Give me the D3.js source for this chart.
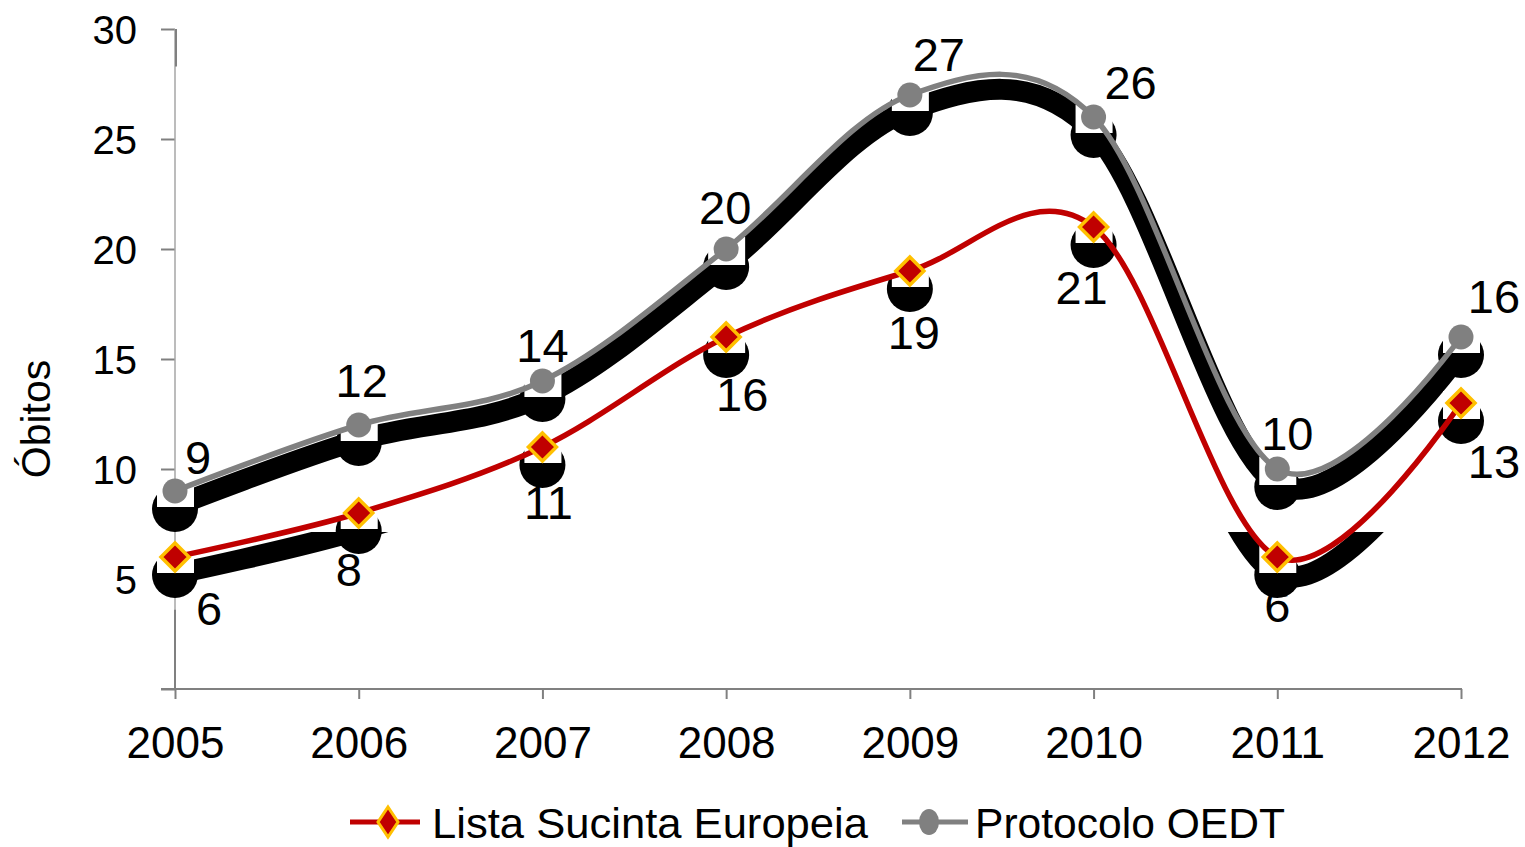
<!DOCTYPE html>
<html><head><meta charset="utf-8">
<script src="https://cdn.jsdelivr.net/npm/d3@7"></script>
<style>html,body{margin:0;padding:0;background:#fff;}svg{display:block;font-family:"Liberation Sans",Arial,sans-serif;}</style>
</head><body>
<svg id="chart" width="1525" height="847"></svg>
<script>
// ---- data ----
const years = ["2005","2006","2007","2008","2009","2010","2011","2012"];
const lista = [6, 8, 11, 16, 19, 21, 6, 13];          // Lista Sucinta Europeia
const oedt  = [9, 12, 14, 20, 27, 26, 10, 16];        // Protocolo OEDT
const yTickValues = [0, 5, 10, 15, 20, 25, 30];
const seriesNames = ["Lista Sucinta Europeia", "Protocolo OEDT"];
const yTitle = "Óbitos";
// label placement (layout only)
const oedtLabelDx = [23, 3, 0, -1, 29, 37, 10, 33];
const oedtLabelDy = [-34, -45, -36, -42, -41, -35, -36, -41];
const listaLabelDx = [34, -10, 6, 16, 4, -12, 0, 33];
const listaLabelDy = [51, 56, 55, 57, 61, 60, 48, 58];

const svg = d3.select("#chart");
const x = d3.scalePoint().domain(years).range([175, 1461]);
const y = d3.scaleLinear().domain([0, 30]).range([689, 29]);

const RED = "#C00000", GOLD = "#FFC000", GRAY = "#808080";
const curve = d3.curveCardinal.tension(0);

const lineGen = d3.line().x((d, i) => x(years[i])).y(d => y(d)).curve(curve);

// ---- axes ----
const yAxis = svg.append("g").attr("transform", `translate(${x(years[0])},0)`)
  .call(d3.axisLeft(y).tickValues(yTickValues).tickSize(14).tickPadding(24)
        .tickFormat(d => d === 0 ? "" : d));
yAxis.select(".domain").remove();
yAxis.selectAll(".tick line").attr("stroke", GRAY).attr("stroke-width", 2);
yAxis.selectAll(".tick text").attr("font-size", 40).attr("fill", "#000")
  .attr("font-family", "Liberation Sans, Arial, sans-serif").attr("dy", "0.36em");

// y axis line
svg.append("line").attr("x1", x(years[0])).attr("x2", x(years[0]))
  .attr("y1", y(30)).attr("y2", y(0)).attr("stroke", "#A6A6A6").attr("stroke-width", 1.5);
svg.append("line").attr("x1", x(years[0]) + 1).attr("x2", x(years[0]) + 1)
  .attr("y1", y(30)).attr("y2", y(28.3)).attr("stroke", GRAY).attr("stroke-width", 2);
svg.append("line").attr("x1", x(years[0])).attr("x2", x(years[0]))
  .attr("y1", y(3.6)).attr("y2", y(0)).attr("stroke", GRAY).attr("stroke-width", 2);

const xAxis = svg.append("g").attr("transform", `translate(0,${y(0)})`)
  .call(d3.axisBottom(x).tickSize(10).tickPadding(28));
xAxis.select(".domain").remove();
xAxis.selectAll(".tick line").attr("stroke", GRAY).attr("stroke-width", 2);
xAxis.selectAll(".tick text").attr("font-size", 44).attr("fill", "#000")
  .attr("font-family", "Liberation Sans, Arial, sans-serif");
svg.append("line").attr("x1", x(years[0]) - 14).attr("x2", x(years[years.length - 1]) + 1)
  .attr("y1", y(0)).attr("y2", y(0)).attr("stroke", GRAY).attr("stroke-width", 2);

// y title
svg.append("text").attr("transform", `translate(50,${(y(30) + y(0)) / 2 + 60}) rotate(-90)`)
  .attr("text-anchor", "middle").attr("font-size", 41).text(yTitle);

// ---- shadow artifacts ----
svg.append("defs").append("clipPath").attr("id", "redclip")
  .append("rect").attr("x", 0).attr("y", 532).attr("width", 1525).attr("height", 200);

svg.append("path").datum(oedt).attr("d", lineGen)
  .attr("transform", "translate(0,15)")
  .attr("fill", "none").attr("stroke", "#000").attr("stroke-width", 21);
svg.append("g").attr("clip-path", "url(#redclip)")
  .append("path").datum(lista).attr("d", lineGen)
  .attr("transform", "translate(0,17)")
  .attr("fill", "none").attr("stroke", "#000").attr("stroke-width", 21);

const allPts = [];
years.forEach((yr, i) => { allPts.push({ yr, v: oedt[i] }); allPts.push({ yr, v: lista[i] }); });

svg.append("g").selectAll("ellipse").data(allPts).join("ellipse")
  .attr("cx", d => x(d.yr)).attr("cy", d => y(d.v) + 18)
  .attr("rx", 23).attr("ry", 23).attr("fill", "#000");
svg.append("g").selectAll("rect").data(allPts).join("rect")
  .attr("x", d => x(d.yr) - 18).attr("y", d => y(d.v) - 12)
  .attr("width", 37).attr("height", 28).attr("fill", "#fff");

// ---- lines ----
svg.append("path").datum(lista).attr("d", lineGen)
  .attr("fill", "none").attr("stroke", RED).attr("stroke-width", 5.5);
svg.append("path").datum(oedt).attr("d", lineGen)
  .attr("fill", "none").attr("stroke", GRAY).attr("stroke-width", 5.5);

// ---- markers ----
function diamondPath(cx, cy, hw, hh) {
  return `M${cx},${cy - hh}L${cx + hw},${cy}L${cx},${cy + hh}L${cx - hw},${cy}Z`;
}
svg.append("g").selectAll("path").data(lista).join("path")
  .attr("d", (d, i) => diamondPath(x(years[i]), y(d), 14, 14))
  .attr("fill", RED).attr("stroke", GOLD).attr("stroke-width", 3.5);
svg.append("g").selectAll("circle").data(oedt).join("circle")
  .attr("cx", (d, i) => x(years[i])).attr("cy", d => y(d))
  .attr("r", 12.5).attr("fill", GRAY);

// ---- data labels ----
const fsLab = 47;
svg.append("g").selectAll("text").data(oedt).join("text")
  .attr("x", (d, i) => x(years[i]) + oedtLabelDx[i])
  .attr("y", (d, i) => y(d) + oedtLabelDy[i] + 0.358 * fsLab)
  .attr("text-anchor", "middle").attr("font-size", fsLab).text(d => d);
svg.append("g").selectAll("text").data(lista).join("text")
  .attr("x", (d, i) => x(years[i]) + listaLabelDx[i])
  .attr("y", (d, i) => y(d) + listaLabelDy[i] + 0.358 * fsLab)
  .attr("text-anchor", "middle").attr("font-size", fsLab).text(d => d);

// ---- legend ----
const lg = svg.append("g");
const ly = 822;
lg.append("line").attr("x1", 350).attr("x2", 420).attr("y1", ly).attr("y2", ly)
  .attr("stroke", RED).attr("stroke-width", 5);
lg.append("path").attr("d", diamondPath(388, ly, 10, 15))
  .attr("fill", RED).attr("stroke", GOLD).attr("stroke-width", 3);
lg.append("text").attr("x", 432).attr("y", ly + 16).attr("font-size", 43)
  .attr("textLength", 436).attr("lengthAdjust", "spacingAndGlyphs").text(seriesNames[0]);
lg.append("line").attr("x1", 902).attr("x2", 968).attr("y1", ly).attr("y2", ly)
  .attr("stroke", GRAY).attr("stroke-width", 5);
lg.append("ellipse").attr("cx", 929).attr("cy", ly).attr("rx", 10).attr("ry", 13).attr("fill", GRAY);
lg.append("text").attr("x", 975).attr("y", ly + 16).attr("font-size", 43)
  .attr("textLength", 310).attr("lengthAdjust", "spacingAndGlyphs").text(seriesNames[1]);
</script>
</body></html>
